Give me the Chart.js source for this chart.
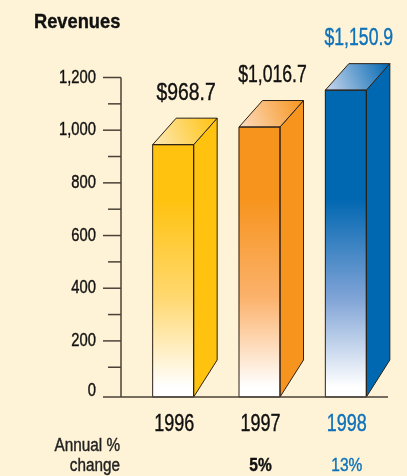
<!DOCTYPE html>
<html>
<head>
<meta charset="utf-8">
<style>
html, body { margin: 0; padding: 0; background: #fef3d6; }
#wrap { width: 407px; height: 476px; }
</style>
<script src="https://cdn.jsdelivr.net/npm/chart.js@4"></script>
</head>
<body>
<div id="wrap"><canvas id="myChart" width="407" height="476"></canvas></div>
<script>
const years = ["1996", "1997", "1998"];
// bar heights (the printed 968.7 stands lower than its value)
const barHeights = [945, 1012, 1152];
const valueLabels = ["$968.7", "$1,016.7", "$1,150.9"];
const changeLabels = ["", "5%", "13%"];
const changeTitle = ["Annual %", "change"];
const chartTitle = "Revenues";
const majorTicks = [200, 400, 600, 800, 1000, 1200];
const minorTicks = [100, 300, 500, 700, 900, 1100];
// in the original the baseline sits a little below where the ticks put zero
const axisBottom = -13;
const frontColors = ["#ffc20e", "#f7941d", "#0067b1"];
const midColors = ["#ffd870", "#fbb26c", "#7fa3d6"];
const topLightColors = ["#fde9b8", "#fcdcc0", "#ccd8ee"];
const labelColors = ["#111111", "#111111", "#0e72ba"];
const valueSqueeze = [0.79, 0.72, 0.72];

const fontName = '"Liberation Sans", sans-serif';
const axisColor = "#4a4238";

function frontGradient(ctx) {
	const i = ctx.dataIndex;
	if (!ctx.chart.chartArea) return frontColors[i];
	const y = ctx.chart.scales.y;
	const g = ctx.chart.ctx.createLinearGradient(0, y.getPixelForValue(axisBottom), 0, y.getPixelForValue(740));
	g.addColorStop(0, "#ffffff");
	g.addColorStop(0.05, "#ffffff");
	g.addColorStop(0.5, midColors[i]);
	g.addColorStop(1, frontColors[i]);
	return g;
}

// the only narrow look available: squeeze the text sideways
function drawText(c, text, x, y, size, bold, color, align, squeeze) {
	c.save();
	c.translate(x, y);
	c.scale(squeeze, 1);
	c.font = (bold ? "bold " : "") + size + "px " + fontName;
	c.fillStyle = color;
	c.strokeStyle = color;
	c.lineWidth = 0.4;
	c.textAlign = align;
	c.textBaseline = "alphabetic";
	c.fillText(text, 0, 0);
	c.strokeText(text, 0, 0);
	c.restore();
}

// side and top faces of the boxes, drawn from the bar elements
const boxPlugin = {
	id: "box",
	afterDatasetsDraw(chart) {
		const c = chart.ctx;
		const base = chart.scales.y.getPixelForValue(axisBottom);
		chart.getDatasetMeta(0).data.forEach((bar, i) => {
			const l = bar.x - bar.width / 2;
			const r = bar.x + bar.width / 2;
			const t = bar.y;
			const dx = 23.5, dy = 26.5;
			c.save();
			c.lineWidth = 1;
			c.strokeStyle = "#2a2118";
			c.lineJoin = "round";
			// side
			c.beginPath();
			c.moveTo(r, t);
			c.lineTo(r + dx, t - dy);
			c.lineTo(r + dx, base - 37);
			c.lineTo(r, base);
			c.closePath();
			c.fillStyle = frontColors[i];
			c.fill();
			c.stroke();
			// top
			c.beginPath();
			c.moveTo(l, t);
			c.lineTo(l + dx, t - dy);
			c.lineTo(r + dx, t - dy);
			c.lineTo(r, t);
			c.closePath();
			const g = c.createLinearGradient(l, t, r + dx, t - dy);
			g.addColorStop(0, topLightColors[i]);
			g.addColorStop(1, frontColors[i]);
			c.fillStyle = g;
			c.fill();
			c.stroke();
			// front outline
			c.strokeRect(l, t, r - l, base - t);
			c.restore();

			drawText(c, valueLabels[i], bar.x + 13, t - 45, 24.5, false, labelColors[i], "center", valueSqueeze[i]);
			drawText(c, years[i], bar.x + 1, 430.5, 24, false, labelColors[i], "center", 0.75);
			drawText(c, changeLabels[i], bar.x + 1, 470.5, 18, i === 1, labelColors[i], "center", 0.86);
		});
	},
	afterDraw(chart) {
		const c = chart.ctx;
		const y = chart.scales.y;
		const axisX = 121;
		const base = y.getPixelForValue(axisBottom);
		c.save();
		c.strokeStyle = axisColor;
		c.lineWidth = 1.5;
		c.beginPath();
		c.moveTo(axisX, y.getPixelForValue(1200));
		c.lineTo(axisX, base);
		c.stroke();
		// baseline
		c.beginPath();
		c.moveTo(axisX - 18, base);
		c.lineTo(388, base);
		c.stroke();
		majorTicks.forEach(v => {
			c.beginPath();
			c.moveTo(axisX - 18, y.getPixelForValue(v));
			c.lineTo(axisX, y.getPixelForValue(v));
			c.stroke();
		});
		minorTicks.forEach(v => {
			c.beginPath();
			c.moveTo(axisX - 13, y.getPixelForValue(v));
			c.lineTo(axisX, y.getPixelForValue(v));
			c.stroke();
		});
		c.restore();
		majorTicks.forEach(v => {
			drawText(c, v.toLocaleString("en-US"), 96, y.getPixelForValue(v) + 5, 18, false, "#111111", "right", 0.82);
		});
		drawText(c, "0", 96, base - 1, 18, false, "#111111", "right", 0.82);
		drawText(c, chartTitle, 34, 28, 21, true, "#111111", "left", 0.87);
		drawText(c, changeTitle[0], 120, 450.5, 18, false, "#222222", "right", 0.85);
		drawText(c, changeTitle[1], 120, 470.5, 18, false, "#222222", "right", 0.85);
	}
};

var ctx = document.getElementById("myChart").getContext("2d");
var chart = new Chart(ctx, {
	type: "bar",
	data: {
		labels: years,
		datasets: [{
			data: barHeights,
			base: axisBottom,
			barThickness: 41,
			backgroundColor: frontGradient,
			borderWidth: 0
		}]
	},
	options: {
		responsive: false,
		animation: false,
		layout: { padding: { top: 77.5, right: 18, bottom: 71, left: 0 } },
		plugins: { legend: { display: false }, tooltip: { enabled: false } },
		scales: {
			x: {
				grid: { display: false },
				border: { display: false },
				ticks: { display: false }
			},
			y: {
				min: axisBottom,
				max: 1200,
				afterFit: s => { s.width = 130; },
				grid: { display: false },
				border: { display: false },
				ticks: { display: false, stepSize: 200 }
			}
		}
	},
	plugins: [boxPlugin]
});
</script>
</body>
</html>
